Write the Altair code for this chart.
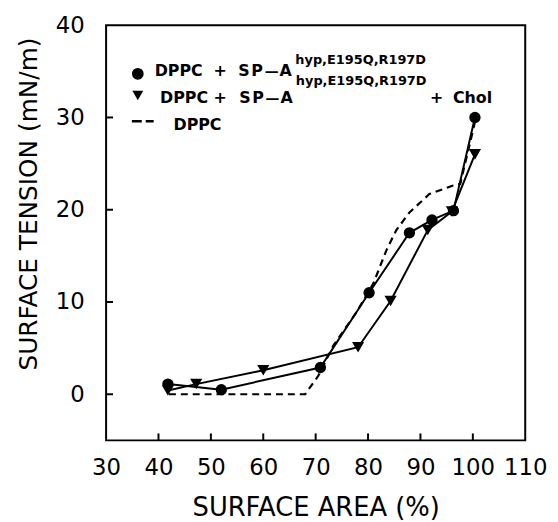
import altair as alt
import pandas as pd

# ---- data ----
circ_x = [41.8, 52.0, 70.9, 80.2, 87.9, 92.2, 96.3, 100.4]
circ_y = [1.1, 0.5, 2.9, 11.0, 17.5, 18.9, 19.9, 30.0]
tri_x = [41.8, 47.2, 60.0, 78.1, 84.3, 91.4, 96.0, 100.4]
tri_y = [0.4, 1.1, 2.6, 5.1, 10.1, 17.8, 19.8, 26.0]
dppc_x = [42.0, 68.0, 70.5, 73.4, 77.8, 81.0, 83.5, 85.4, 87.9, 91.7, 96.1, 97.6, 100.4]
dppc_y = [0.0, 0.0, 2.0, 5.3, 8.9, 12.0, 15.6, 17.8, 19.7, 21.7, 22.6, 22.8, 29.5]

x_labels = [30, 40, 50, 60, 70, 80, 90, 100, 110]
y_labels = [0, 10, 20, 30, 40]
x_inner_ticks = [40, 50, 60, 70, 80, 90, 100]
y_inner_ticks = [0, 10, 20, 30]

W, H = 423, 419
FONT = "DejaVu Sans"

circ = pd.DataFrame({"x": circ_x, "y": circ_y, "i": range(len(circ_x))})
tri = pd.DataFrame({"x": tri_x, "y": tri_y, "i": range(len(tri_x))})
dppc = pd.DataFrame({"x": dppc_x, "y": dppc_y, "i": range(len(dppc_x))})

xs = alt.Scale(domain=[30, 110], nice=False, zero=False)
ys = alt.Scale(domain=[-5, 40], nice=False, zero=False)

x_axis = alt.Axis(values=x_labels, title="SURFACE AREA (%)", grid=False, ticks=False,
                  tickSize=0, domain=False, labelFont=FONT, labelFontSize=23,
                  labelColor="black", labelPadding=16, labelFlush=False,
                  labelOverlap=False, titleFont=FONT, titleFontSize=26,
                  titleFontWeight="normal", titleColor="black",
                  titleBaseline="alphabetic", titleY=76)
y_axis = alt.Axis(values=y_labels, title="SURFACE TENSION (mN/m)", grid=False,
                  ticks=False, tickSize=0, domain=False, labelFont=FONT,
                  labelFontSize=23, labelColor="black", labelPadding=22,
                  labelFlush=False, labelOverlap=False, titleFont=FONT,
                  titleFontSize=25, titleFontWeight="normal", titleColor="black",
                  titleBaseline="alphabetic", titleX=-70, titleY=180)

base_dppc = alt.Chart(dppc).mark_line(color="black", strokeWidth=2.2,
                                      strokeDash=[7, 5]).encode(
    x=alt.X("x:Q", scale=xs, axis=x_axis),
    y=alt.Y("y:Q", scale=ys, axis=y_axis),
    order="i:Q",
)

circ_line = alt.Chart(circ).mark_line(color="black", strokeWidth=2).encode(
    x=alt.X("x:Q", scale=xs), y=alt.Y("y:Q", scale=ys), order="i:Q")
circ_pts = alt.Chart(circ).mark_point(shape="circle", filled=True, color="black",
                                      opacity=1, size=130).encode(
    x=alt.X("x:Q", scale=xs), y=alt.Y("y:Q", scale=ys))
tri_line = alt.Chart(tri).mark_line(color="black", strokeWidth=2).encode(
    x=alt.X("x:Q", scale=xs), y=alt.Y("y:Q", scale=ys), order="i:Q")
tri_pts = alt.Chart(tri).mark_point(shape="triangle-down", filled=True, color="black",
                                    opacity=1, size=150).encode(
    x=alt.X("x:Q", scale=xs), y=alt.Y("y:Q", scale=ys))

# inward tick marks
xt = alt.Chart(pd.DataFrame({"v": x_inner_ticks})).mark_rule(
    color="black", strokeWidth=2).encode(
    x=alt.X("v:Q", scale=xs), y=alt.value(H), y2=alt.value(H - 7))
yt = alt.Chart(pd.DataFrame({"v": y_inner_ticks})).mark_rule(
    color="black", strokeWidth=2).encode(
    y=alt.Y("v:Q", scale=ys), x=alt.value(0), x2=alt.value(7))

one = alt.Data(values=[{"a": 1}])


def txt(s, px, py, size=16):
    return alt.Chart(one).mark_text(
        text=s, align="left", baseline="alphabetic", font=FONT,
        fontWeight="bold", fontSize=size, color="black").encode(
        x=alt.value(px), y=alt.value(py))


def spa(px, py):
    return [txt("S", px, py), txt("P", px + 13, py), txt("—", px + 26.5, py, 14),
            txt("A", px + 41.5, py)]


legend = [
    alt.Chart(one).mark_point(shape="circle", filled=True, color="black",
                              opacity=1, size=140).encode(
        x=alt.value(32), y=alt.value(49)),
    txt("DPPC", 49, 51), txt("+", 108.5, 51), *spa(133.5, 51),
    txt("hyp,E195Q,R197D", 191, 38.7, 13),
    alt.Chart(one).mark_point(shape="triangle-down", filled=True, color="black",
                              opacity=1, size=120).encode(
        x=alt.value(32), y=alt.value(71)),
    txt("DPPC", 54.5, 78.5), txt("+", 108.5, 78.5), *spa(134.5, 78.5),
    txt("hyp,E195Q,R197D", 191.5, 60.3, 13),
    txt("+", 327, 78.5), txt("Chol", 350, 78.5),
    alt.Chart(one).mark_rule(color="black", strokeWidth=2.5,
                             strokeDash=[10, 4]).encode(
        x=alt.value(26), x2=alt.value(48), y=alt.value(97)),
    txt("DPPC", 68, 106),
]

chart = alt.layer(base_dppc, circ_line, tri_line, circ_pts, tri_pts, xt, yt,
                  *legend).properties(
    width=W, height=H,
    padding={"left": 99, "top": 15, "right": 25, "bottom": 80},
    autosize=alt.AutoSizeParams(type="none"),
    background="white",
).configure_view(stroke="black", strokeWidth=2)

chart.save("out.html", embed_options={"renderer": "svg", "actions": False})
